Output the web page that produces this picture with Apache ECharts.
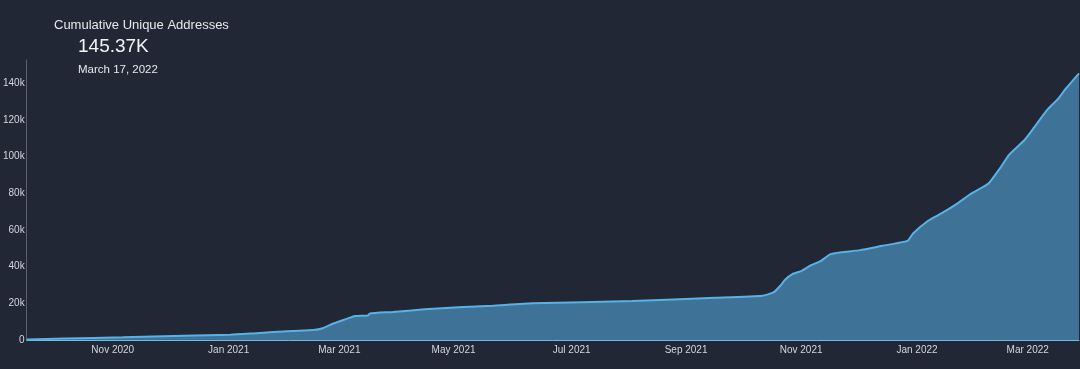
<!DOCTYPE html>
<html>
<head>
<meta charset="utf-8">
<script src="https://cdn.jsdelivr.net/npm/echarts@6/dist/echarts.min.js"></script>
<style>
  html, body { margin: 0; padding: 0; background: #222735; }
  #chart { width: 1080px; height: 369px; }
</style>
</head>
<body>
<div id="chart"></div>
<script>
const titleText = 'Cumulative Unique Addresses';
const latestValueText = '145.37K';
const latestDateText = 'March 17, 2022';

const dates = [
  '2020-09-05','2020-09-25','2020-10-26','2020-11-27','2020-12-22',
  '2021-01-03','2021-01-14','2021-01-24','2021-02-04','2021-02-09',
  '2021-02-14','2021-02-20','2021-02-26','2021-03-05','2021-03-06',
  '2021-03-18','2021-04-04','2021-04-22','2021-05-10','2021-05-31',
  '2021-07-23','2021-09-05','2021-09-30','2021-10-06','2021-10-10',
  '2021-10-12','2021-10-16','2021-10-21','2021-10-26','2021-10-31',
  '2021-11-05','2021-11-11','2021-11-21','2021-12-02','2021-12-16',
  '2021-12-19','2021-12-27','2022-01-03','2022-01-11','2022-01-19',
  '2022-01-28','2022-02-03','2022-02-08','2022-02-16','2022-02-21',
  '2022-02-28','2022-03-06','2022-03-10','2022-03-17'
];
const addresses = [
  300, 800, 1500, 2300, 2900,
  3600, 4300, 4900, 5400, 6400,
  8700, 10900, 13100, 13400, 14500,
  15300, 16700, 17800, 18700, 20000,
  21200, 23000, 24100, 25900, 30000,
  32700, 35900, 37700, 40800, 43000,
  46700, 47800, 49000, 51200, 54000,
  58100, 65000, 69000, 74100, 79900,
  85300, 93500, 101100, 108900, 115600,
  125300, 131600, 137000, 145370
];
const yTicks = [0, 20000, 40000, 60000, 80000, 100000, 120000, 140000];
const monthNames = ['Jan','Feb','Mar','Apr','May','Jun','Jul','Aug','Sep','Oct','Nov','Dec'];

const chart = echarts.init(document.getElementById('chart'), null, { renderer: 'canvas' });
const font = '"Liberation Sans", Arial, Helvetica, sans-serif';
const lastValue = addresses[addresses.length - 1];

chart.setOption({
  backgroundColor: '#222735',
  animation: false,
  graphic: [
    { type: 'text', left: 54, top: 19, style: { text: titleText, fill: '#e6e8ec', font: '13px ' + font } },
    { type: 'text', left: 78, top: 37, style: { text: latestValueText, fill: '#f2f3f5', font: '19px ' + font } },
    { type: 'text', left: 78, top: 64, style: { text: latestDateText, fill: '#e6e8ec', font: '11.5px ' + font } }
  ],
  grid: { left: 22, right: 1, top: 60, bottom: 29, containLabel: false },
  xAxis: {
    type: 'time',
    min: dates[0],
    max: dates[dates.length - 1],
    splitNumber: 18,
    axisLine: { show: true, lineStyle: { color: '#6fb9e6', width: 1 } },
    axisTick: { show: false },
    splitLine: { show: false },
    axisLabel: {
      color: '#d3d6dc',
      fontSize: 10,
      fontFamily: font,
      align: 'right',
      margin: 5,
      hideOverlap: false,
      formatter: function (v) {
        const d = new Date(v);
        if (d.getDate() !== 1) return '';
        const m = d.getMonth();
        if (m % 2 !== 0) return '';
        return monthNames[m] + ' ' + d.getFullYear();
      }
    }
  },
  yAxis: {
    type: 'value',
    min: 0,
    max: Math.round(lastValue * 1.05),
    interval: 20000,
    axisLine: { show: true, lineStyle: { color: '#5b6170', width: 1 } },
    axisTick: { show: false },
    splitLine: { show: false },
    axisLabel: {
      color: '#d3d6dc',
      fontSize: 10,
      fontFamily: font,
      margin: 2,
      showMaxLabel: false,
      formatter: function (v) {
        if (yTicks.indexOf(v) < 0) return '';
        return v === 0 ? '0' : (v / 1000) + 'k';
      }
    }
  },
  series: [{
    type: 'line',
    data: dates.map((d, i) => [d, addresses[i]]),
    showSymbol: false,
    smooth: 0.15,
    lineStyle: { color: '#56b2e8', width: 2 },
    areaStyle: { color: '#3e7397', opacity: 1 }
  }]
});
</script>
</body>
</html>
